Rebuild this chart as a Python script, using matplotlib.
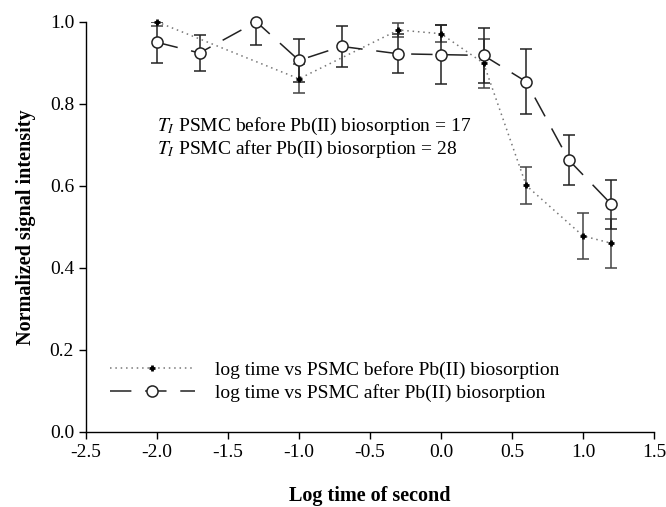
import numpy as np
import matplotlib
matplotlib.use('Agg')
import matplotlib.pyplot as plt

plt.rcParams['font.family'] = ['Liberation Serif', 'DejaVu Serif']
plt.rcParams['mathtext.fontset'] = 'stix'

# before Pb(II) biosorption
x_before = [-2.0, -1.0, -0.3, 0.0, 0.3, 0.6, 1.0, 1.2]
y_before = [1.0, 0.861, 0.98, 0.971, 0.899, 0.601, 0.478, 0.46]
err_before = [0.01, 0.035, 0.017, 0.02, 0.06, 0.046, 0.056, 0.06]

# after Pb(II) biosorption
x_after = [-2.0, -1.7, -1.3, -1.0, -0.7, -0.3, 0.0, 0.3, 0.6, 0.9, 1.2]
y_after = [0.95, 0.924, 1.0, 0.906, 0.94, 0.922, 0.92, 0.918, 0.854, 0.663, 0.555]
err_after_low = [0.05, 0.044, 0.056, 0.052, 0.05, 0.048, 0.072, 0.067, 0.08, 0.06, 0.06]
err_after_up = [0.05, 0.044, 0.0, 0.052, 0.05, 0.048, 0.072, 0.067, 0.08, 0.06, 0.06]

fig = plt.figure(figsize=(6.66, 5.07), dpi=100)
ax = fig.add_axes([0.129, 0.148, 0.853, 0.809])

ax.errorbar(x_before, y_before, yerr=err_before, fmt='none', ecolor='#444444',
            elinewidth=1.1, capsize=4.2, capthick=1.1, zorder=2)
ax.errorbar(x_after, y_after, yerr=[err_after_low, err_after_up], fmt='none',
            ecolor='#222222', elinewidth=1.1, capsize=4.2, capthick=1.1, zorder=2)

ax.plot(x_before, y_before, linestyle=(0, (1, 2.5)), color='#777777', lw=1.1,
        marker='+', ms=5, mew=2, mec='black',
        label='log time vs PSMC before Pb(II) biosorption', zorder=3, clip_on=False)
ax.plot(x_after, y_after, linestyle=(0, (14, 9)), color='#222222', lw=1.1,
        marker='o', ms=8, mfc='white', mec='#222222', mew=1.1,
        label='log time vs PSMC after Pb(II) biosorption', zorder=4, clip_on=False)

ax.text(-2.0, 0.745, '$T_I$ PSMC before Pb(II) biosorption = 17', fontsize=14, va='center')
ax.text(-2.0, 0.69, '$T_I$ PSMC after Pb(II) biosorption = 28', fontsize=14, va='center')

ax.set_xlim(-2.5, 1.5)
ax.set_ylim(0, 1.0)
ax.set_xticks(np.arange(-2.5, 1.51, 0.5))
ax.set_yticks(np.arange(0, 1.01, 0.2))
ax.xaxis.set_major_formatter(matplotlib.ticker.FormatStrFormatter('%.1f'))
ax.yaxis.set_major_formatter(matplotlib.ticker.FormatStrFormatter('%.1f'))
ax.tick_params(labelsize=14, length=5, width=1, direction='out')
for s in ['top', 'right']:
  ax.spines[s].set_visible(False)
for s in ['left', 'bottom']:
  ax.spines[s].set_linewidth(1)

ax.set_xlabel('Log time of second', fontsize=14.5, fontweight='bold', labelpad=18)
ax.set_ylabel('Normalized signal intensity', fontsize=14.5, fontweight='bold', labelpad=10)

ax.legend(loc='lower left', bbox_to_anchor=(0.011, 0.03), frameon=False, fontsize=14,
          handlelength=4.4, handletextpad=1.0, numpoints=1, labelspacing=0.25)

fig.savefig('out.png', dpi=100)
